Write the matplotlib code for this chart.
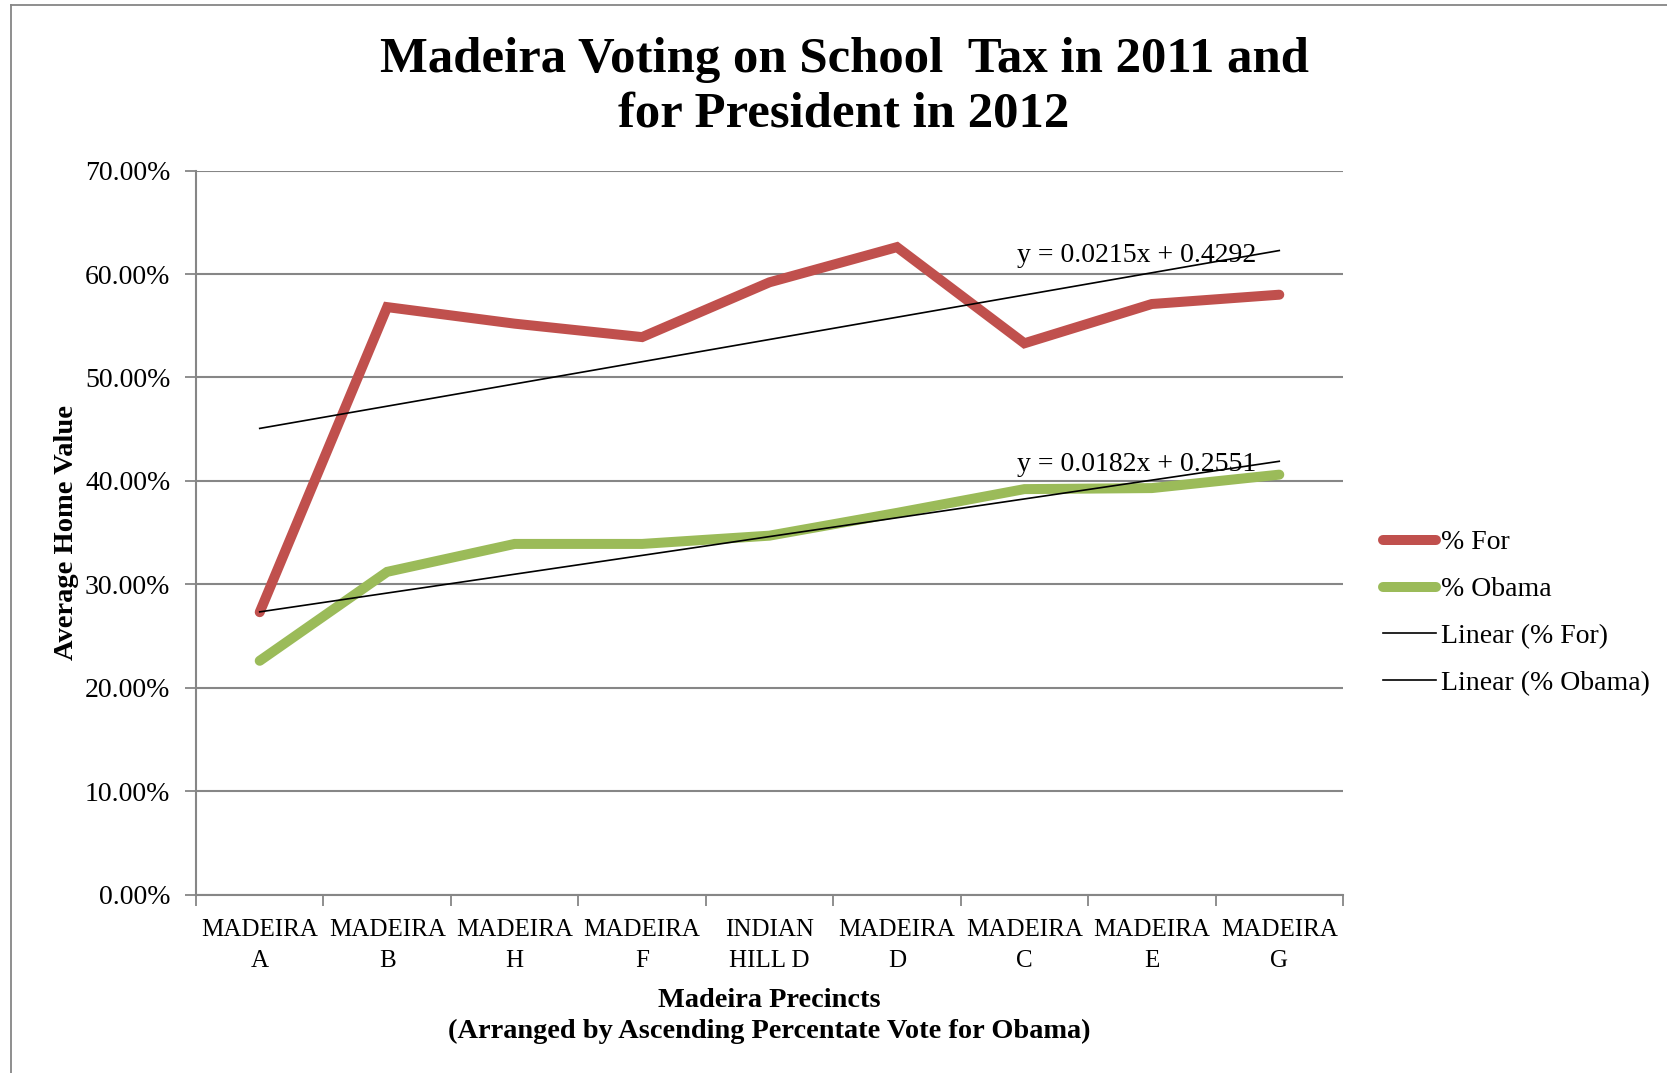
import matplotlib
matplotlib.use("Agg")
import matplotlib.pyplot as plt
from matplotlib.lines import Line2D
from matplotlib.ticker import FuncFormatter, MultipleLocator
import numpy as np

# Precincts, ordered by ascending Obama share
precincts = ["MADEIRA\nA", "MADEIRA\nB", "MADEIRA\nH", "MADEIRA\nF", "INDIAN\nHILL D",
             "MADEIRA\nD", "MADEIRA\nC", "MADEIRA\nE", "MADEIRA\nG"]

# School tax vote 2011 (share voting for)
pct_for = [0.273, 0.568, 0.552, 0.539, 0.592, 0.626, 0.533, 0.571, 0.580]
# Presidential vote 2012 (share for Obama)
pct_obama = [0.226, 0.312, 0.339, 0.339, 0.347, 0.369, 0.392, 0.393, 0.406]

# Linear trend coefficients (slope, intercept) on x = 1..9
trend_for = (0.0215, 0.4292)
trend_obama = (0.0182, 0.2551)

RED = "#C0504D"
GREEN = "#9BBB59"
GRID = "#868686"
SERIF = ["Liberation Serif", "DejaVu Serif"]

plt.rcParams["font.family"] = SERIF

W, H = 1667, 1073
fig = plt.figure(figsize=(W / 100, H / 100), dpi=100)
fig.patch.set_facecolor("white")

# Outer chart frame (left and top edges)
fig.add_artist(Line2D([11 / W, 11 / W], [0, 1 - 5 / H], transform=fig.transFigure,
                      color=GRID, lw=1.3))
fig.add_artist(Line2D([11 / W, 1], [1 - 5 / H, 1 - 5 / H], transform=fig.transFigure,
                      color=GRID, lw=1.3))

left, right = 196 / W, 1343 / W
bottom, top = 1 - 894.5 / H, 1 - 170.6 / H
ax = fig.add_axes([left, bottom, right - left, top - bottom])

x = np.arange(1, len(precincts) + 1)

ax.plot(x, pct_for, color=RED, lw=7.2, solid_capstyle="round", solid_joinstyle="miter",
        label="% For", zorder=3)
ax.plot(x, pct_obama, color=GREEN, lw=7.2, solid_capstyle="round", solid_joinstyle="miter",
        label="% Obama", zorder=3)

xt = np.array([x[0], x[-1]], dtype=float)
ax.plot(xt, trend_for[0] * xt + trend_for[1], color="black", lw=1.2,
        label="Linear (% For)", zorder=4)
ax.plot(xt, trend_obama[0] * xt + trend_obama[1], color="black", lw=1.2,
        label="Linear (% Obama)", zorder=4)

eq_size = 20
ax.text(6.94, 0.612, "y = %.4fx + %.4f" % trend_for, fontsize=eq_size,
        va="baseline", ha="left", zorder=5)
ax.text(6.94, 0.4097, "y = %.4fx + %.4f" % trend_obama, fontsize=eq_size,
        va="baseline", ha="left", zorder=5)

ax.set_xlim(0.5, len(precincts) + 0.5)
ax.set_ylim(0, 0.70)
ax.yaxis.set_major_locator(MultipleLocator(0.10))
ax.yaxis.set_major_formatter(FuncFormatter(lambda v, p: "%.2f%%" % (v * 100)))
ax.grid(axis="y", color=GRID, lw=1.5)
ax.set_axisbelow(True)

ax.set_xticks(x)
ax.set_xticklabels(precincts, fontsize=18, linespacing=1.5)
ax.tick_params(axis="x", length=0, pad=18)
ax.set_xticks(np.arange(0.5, len(precincts) + 1, 1.0), minor=True)
ax.tick_params(axis="x", which="minor", length=8, width=1.3, color=GRID, direction="out")
ax.tick_params(axis="y", length=8, width=1.3, color=GRID, direction="out",
               labelsize=20, pad=10.5)

for s in ["top", "right"]:
    ax.spines[s].set_visible(False)
for s in ["left", "bottom"]:
    ax.spines[s].set_color(GRID)
    ax.spines[s].set_linewidth(1.5)

ax.set_ylabel("Average Home Value", fontsize=20.5, fontweight="bold")
ax.yaxis.set_label_coords(-0.1024, 0.5)

fig.text((196 + 1343) / 2 / W, 1 - 1016 / H,
         "Madeira Precincts\n(Arranged by Ascending Percentate Vote for Obama)",
         ha="center", va="center", fontsize=20.4, fontweight="bold", linespacing=1.35)

fig.text(844 / W, 1 - 87 / H,
         "Madeira Voting on School  Tax in 2011 and\nfor President in 2012",
         ha="center", va="center", fontsize=36.5, fontweight="bold", linespacing=1.24)

fig.legend(loc="center left", bbox_to_anchor=(1383 / W, 1 - 613 / H), frameon=False,
           fontsize=20, handlelength=1.9, handletextpad=0.2, labelspacing=0.77,
           borderaxespad=0, borderpad=0)

fig.savefig("out.png", dpi=100, facecolor="white")
